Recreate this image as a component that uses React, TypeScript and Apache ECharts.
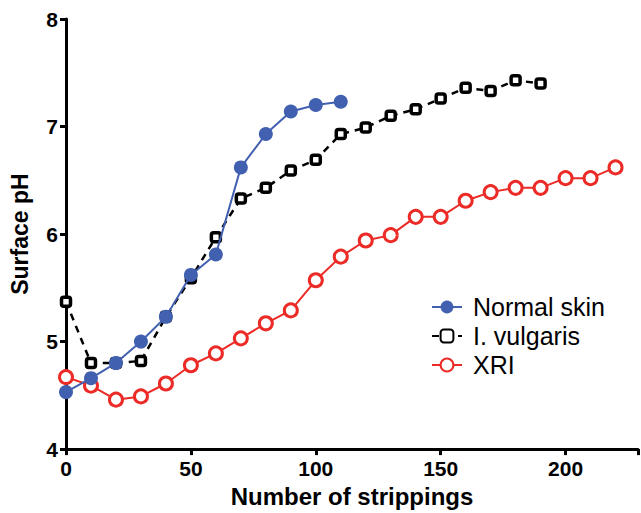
import React, { useEffect, useRef } from "react";
import * as echarts from "echarts";

const strippings = [0, 10, 20, 30, 40, 50, 60, 70, 80, 90, 100, 110, 120, 130, 140, 150, 160, 170, 180, 190, 200, 210, 220];
const normalSkin = [4.53, 4.66, 4.8, 5.0, 5.23, 5.62, 5.81, 6.62, 6.93, 7.14, 7.2, 7.23];
const vulgaris = [5.37, 4.8, 4.8, 4.82, 5.23, 5.59, 5.97, 6.33, 6.43, 6.59, 6.69, 6.93, 6.99, 7.1, 7.16, 7.26, 7.36, 7.33, 7.43, 7.4];
const xri = [4.67, 4.59, 4.46, 4.49, 4.61, 4.78, 4.89, 5.03, 5.17, 5.29, 5.57, 5.79, 5.94, 5.99, 6.16, 6.16, 6.31, 6.39, 6.43, 6.43, 6.52, 6.52, 6.62];
const seriesNames = ["Normal skin", "I. vulgaris", "XRI"];
const xTicks = [0, 50, 100, 150, 200];
const yTicks = [4, 5, 6, 7, 8];

const pair = (vals: number[]) => vals.map((v, i) => [strippings[i], v]);

export default function App() {
  const ref = useRef<HTMLDivElement>(null);
  useEffect(() => {
    document.body.style.margin = "0";
    const chart = echarts.init(ref.current!, undefined, { renderer: "svg" });
    const font = "'Liberation Sans', Arial, sans-serif";
    chart.setOption({
      animation: false,
      textStyle: { fontFamily: font },
      grid: { left: 62, top: 19, right: 0, bottom: 61, containLabel: false },
      legend: {
        left: 426,
        top: 289,
        orient: "vertical",
        itemGap: 3,
        itemWidth: 30,
        itemHeight: 16,
        data: seriesNames,
        textStyle: { fontSize: 25, lineHeight: 26, color: "#000", fontFamily: font, padding: [0, 0, 0, 6] },
      },
      xAxis: {
        type: "value",
        min: 0,
        max: 229,
        interval: 50,
        name: "Number of strippings",
        nameLocation: "middle",
        nameGap: 31,
        nameTextStyle: { fontSize: 24, fontWeight: "bold", color: "#000", fontFamily: font },
        axisLine: { show: true, onZero: false, lineStyle: { color: "#000", width: 3 } },
        axisTick: { show: true, length: 6, lineStyle: { color: "#000", width: 3 } },
        axisLabel: {
          fontSize: 21,
          fontWeight: "bold",
          color: "#000",
          margin: 9,
          formatter: (v: number) => (xTicks.includes(v) ? String(v) : ""),
        },
        splitLine: { show: false },
      },
      yAxis: {
        type: "value",
        min: 4,
        max: 8,
        interval: 1,
        name: "Surface pH",
        nameLocation: "middle",
        nameGap: 35,
        nameTextStyle: { fontSize: 23, fontWeight: "bold", color: "#000", fontFamily: font },
        axisLine: { show: true, lineStyle: { color: "#000", width: 3 } },
        axisTick: { show: true, length: 6, lineStyle: { color: "#000", width: 3 } },
        axisLabel: {
          fontSize: 21,
          fontWeight: "bold",
          color: "#000",
          margin: 8,
          formatter: (v: number) => (yTicks.includes(v) ? String(v) : ""),
        },
        splitLine: { show: false },
      },
      series: [
        {
          name: seriesNames[0],
          type: "line",
          data: pair(normalSkin),
          symbol: "circle",
          symbolSize: 14,
          z: 4,
          itemStyle: { color: "#4160b0" },
          lineStyle: { color: "#4160b0", width: 2 },
        },
        {
          name: seriesNames[1],
          type: "line",
          data: pair(vulgaris),
          symbol: "roundRect",
          symbolSize: 9,
          z: 3,
          itemStyle: { color: "#fff", borderColor: "#000", borderWidth: 3.5 },
          lineStyle: { color: "#000", width: 2.5, type: [7, 6] },
        },
        {
          name: seriesNames[2],
          type: "line",
          data: pair(xri),
          symbol: "circle",
          symbolSize: 13,
          z: 2,
          itemStyle: { color: "#fff", borderColor: "#ec2a26", borderWidth: 3 },
          lineStyle: { color: "#ec2a26", width: 2 },
        },
      ],
    });
    return () => chart.dispose();
  }, []);
  return <div ref={ref} style={{ width: 641, height: 513 }} />;
}
